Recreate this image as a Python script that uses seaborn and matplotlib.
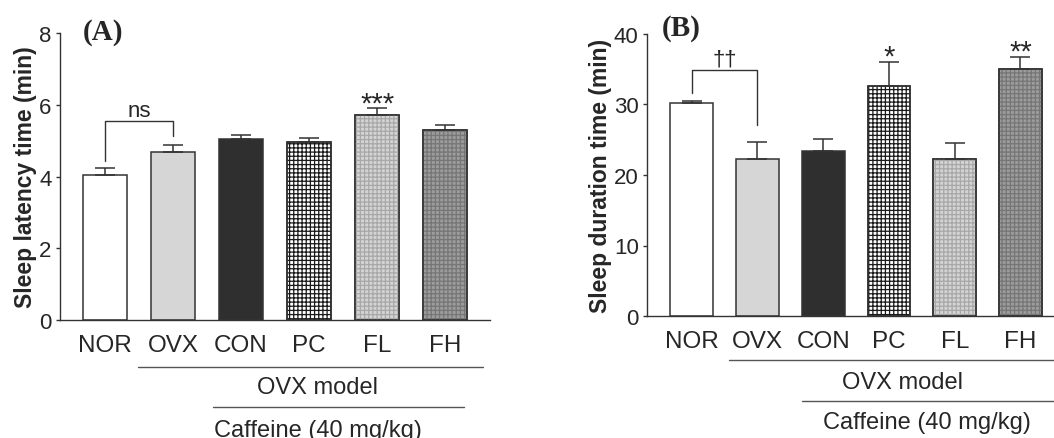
import matplotlib
matplotlib.use("Agg")
import matplotlib.pyplot as plt
import numpy as np
import pandas as pd
import seaborn as sns
from matplotlib.patches import Rectangle

groups = ["NOR", "OVX", "CON", "PC", "FL", "FH"]

latency_mean = [4.05, 4.67, 5.05, 4.97, 5.72, 5.29]
latency_sem = [0.18, 0.22, 0.10, 0.10, 0.18, 0.14]
latency_marks = ["", "", "", "", "***", ""]
latency_bracket = [4.44, 5.54, 5.14]  # left foot, top, right foot
latency_bracket_label = "ns"

duration_mean = [30.2, 22.2, 23.4, 32.6, 22.2, 35.0]
duration_sem = [0.25, 2.55, 1.65, 3.4, 2.3, 1.8]
duration_marks = ["", "", "", "*", "", "**"]
duration_bracket = [31.6, 34.9, 27.1]
duration_bracket_label = "\u2020\u2020"

face_colors = ["#ffffff", "#d6d6d6", "#2f2f2f", "#ffffff", "#d4d4d4", "#9c9c9c"]
hatch_colors = [None, None, None, "#1a1a1a", "#a8a8a8", "#767676"]
EDGE = "#333333"
FS = 16
FS_X = 17.5

sns.set_style("ticks")
plt.rcParams["font.family"] = ["Liberation Sans", "DejaVu Sans"]
plt.rcParams["hatch.linewidth"] = 0.9


def draw_panel(ax, means, sems, marks, bracket, bracket_label, ylabel, ylim, yticks, xlim):
    df = pd.DataFrame({"group": groups, "value": means})
    sns.barplot(data=df, x="group", y="value", hue="group", palette=face_colors,
                edgecolor=EDGE, linewidth=1.1, width=0.65, legend=False,
                errorbar=None, ax=ax)

    # checker textures on top of the filled bars
    for patch, hc in zip(ax.patches[:len(groups)], hatch_colors):
        if hc is None:
            continue
        ax.add_patch(Rectangle((patch.get_x(), patch.get_y()), patch.get_width(), patch.get_height(),
                               fill=False, hatch="++++", edgecolor=hc, linewidth=0, zorder=patch.get_zorder()))
        ax.add_patch(Rectangle((patch.get_x(), patch.get_y()), patch.get_width(), patch.get_height(),
                               fill=False, edgecolor=EDGE, linewidth=1.1, zorder=patch.get_zorder() + 0.1))

    x = np.arange(len(groups))
    ax.errorbar(x, means, yerr=[np.zeros(len(groups)), sems], fmt="none",
                ecolor=EDGE, elinewidth=1.1, capsize=7.5, capthick=1.1, zorder=1)

    tops = np.array(means) + np.array(sems)
    for xi, top, m in zip(x, tops, marks):
        if m:
            ax.text(xi, top - (ylim[1] - ylim[0]) * 0.01, m, ha="center", va="baseline", fontsize=21)

    left, peak, right = bracket
    ax.plot([0, 0, 1, 1], [left, peak, peak, right], color=EDGE, lw=1.0, clip_on=False)
    ax.text(0.5, peak + (ylim[1] - ylim[0]) * 0.018, bracket_label, ha="center", va="baseline", fontsize=FS)

    ax.set_xlim(*xlim)
    ax.set_ylim(*ylim)
    ax.set_yticks(yticks)
    ax.set_xlabel("")
    ax.set_ylabel(ylabel, fontsize=FS + 0.5, fontweight="bold")
    ax.tick_params(axis="y", direction="out", length=3, width=1, pad=3, labelsize=FS, color=EDGE)
    ax.tick_params(axis="x", length=0, pad=10, labelsize=FS_X)
    for side in ["left", "bottom"]:
        ax.spines[side].set_color(EDGE)
        ax.spines[side].set_linewidth(1.0)
    sns.despine(ax=ax)


fig = plt.figure(figsize=(10.54, 4.39), dpi=100)

ax_a = fig.add_axes([60 / 1054, 1 - 321 / 439, 430 / 1054, 287 / 439])
draw_panel(ax_a, latency_mean, latency_sem, latency_marks, latency_bracket, latency_bracket_label,
           "Sleep latency time (min)", (0, 8), [0, 2, 4, 6, 8], (-0.66, 5.66))
ax_a.yaxis.set_label_coords(-0.053, 0.5)

ax_b = fig.add_axes([647 / 1054, 1 - 317 / 439, 407 / 1054, 282 / 439])
draw_panel(ax_b, duration_mean, duration_sem, duration_marks, duration_bracket, duration_bracket_label,
           "Sleep duration time (min)", (0, 40), [0, 10, 20, 30, 40], (-0.68, 5.51))
ax_b.yaxis.set_label_coords(-0.086, 0.5)

# group annotations under the x axis
line_kw = dict(color="#555555", lw=1.0, clip_on=False)
ta = ax_a.get_xaxis_transform()
ax_a.plot([0.49, 5.56], [-0.164, -0.164], transform=ta, **line_kw)
ax_a.text(3.13, -0.233, "OVX model", transform=ta, ha="center", va="center", fontsize=FS_X - 0.5)
ax_a.plot([1.59, 5.28], [-0.303, -0.303], transform=ta, **line_kw)
ax_a.text(3.13, -0.385, "Caffeine (40 mg/kg)", transform=ta, ha="center", va="center", fontsize=FS_X - 0.5)

tb = ax_b.get_xaxis_transform()
ax_b.plot([0.57, 5.51], [-0.156, -0.156], transform=tb, **line_kw)
ax_b.text(3.21, -0.234, "OVX model", transform=tb, ha="center", va="center", fontsize=FS_X - 0.5)
ax_b.plot([1.68, 5.51], [-0.301, -0.301], transform=tb, **line_kw)
ax_b.text(3.58, -0.376, "Caffeine (40 mg/kg)", transform=tb, ha="center", va="center", fontsize=FS_X - 0.5)

fig.text(103 / 1054, 1 - 32 / 439, "(A)", family=["Liberation Serif", "DejaVu Serif"],
         fontweight="bold", fontsize=21, ha="center", va="center")
fig.text(681 / 1054, 1 - 28 / 439, "(B)", family=["Liberation Serif", "DejaVu Serif"],
         fontweight="bold", fontsize=21, ha="center", va="center")

fig.savefig("out.png", dpi=100)
